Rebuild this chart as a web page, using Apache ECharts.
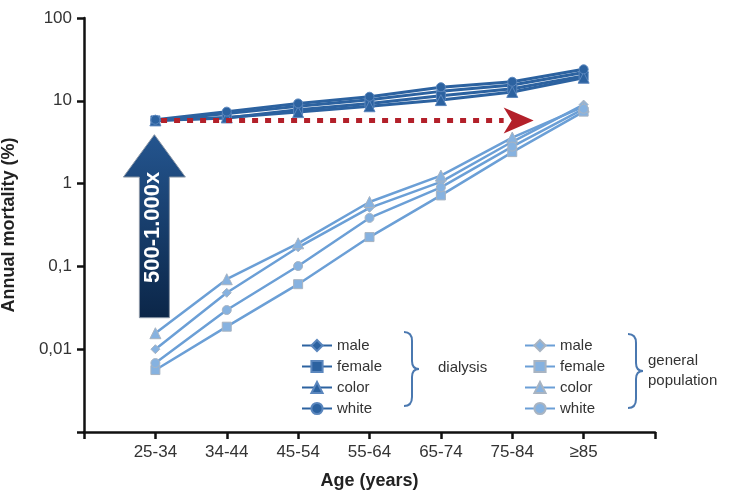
<!DOCTYPE html>
<html>
<head>
<meta charset="utf-8">
<script src="https://cdn.jsdelivr.net/npm/echarts@6/dist/echarts.min.js"></script>
<style>
html,body{margin:0;padding:0;background:#fff;}
#c{width:742px;height:498px;}
</style>
</head>
<body>
<div id="c"></div>
<script>
const ages = ['25-34','34-44','45-54','55-64','65-74','75-84','\u226585'];
const yTickLabels = ['', '0,01', '0,1', '1', '10', '100'];

const dialMale   = [5.8, 7.0, 8.6, 10.3, 13.0, 15.5, 22];
const dialFemale = [5.8, 6.2, 7.8, 9.3, 11.5, 14.0, 20];
const dialColor  = [5.8, 6.3, 7.3, 8.6, 10.2, 12.8, 19];
const dialWhite  = [5.9, 7.4, 9.3, 11.2, 14.6, 17.0, 24];

const genMale   = [0.010, 0.048, 0.17, 0.51, 1.05, 3.2, 9.0];
const genFemale = [0.0056, 0.0187, 0.061, 0.226, 0.72, 2.4, 7.4];
const genColor  = [0.0156, 0.070, 0.19, 0.60, 1.25, 3.6, 8.5];
const genWhite  = [0.0068, 0.0297, 0.101, 0.385, 0.9, 2.8, 8.0];

// annotation anchors (data space)
const arrowFrom = 0.024, arrowHeadBase = 1.2, arrowTip = 3.9;
const refLevel = 5.8, refStart = 1.08, refEnd = 6.3;

const DARK = '#2c62a0', LIGHT = '#6b9fd6';
const toPts = arr => arr.map((v, i) => [i + 1, v]);

function mk(name, data, symbol, dark) {
  return {
    name: name, type: 'line', data: toPts(data),
    symbol: symbol, symbolSize: symbol === 'triangle' ? 11 : 9,
    lineStyle: { color: dark ? DARK : LIGHT, width: dark ? 3 : 2.5 },
    itemStyle: dark ? { color: DARK, borderColor: '#5a86bd', borderWidth: 1 }
                    : { color: '#86b2e0', borderColor: '#a8b4c2', borderWidth: 1 },
    z: dark ? 4 : 3, animation: false
  };
}

const chart = echarts.init(document.getElementById('c'));
const font = 'Liberation Sans, Arial, sans-serif';
chart.setOption({
  animation: false,
  textStyle: { fontFamily: font },
  grid: { left: 84, right: 87, top: 18, bottom: 66, containLabel: false, outerBoundsMode: 'none' },
  xAxis: {
    type: 'value', min: 0, max: 8, interval: 1,
    name: 'Age (years)', nameLocation: 'middle', nameGap: 40,
    nameTextStyle: { fontSize: 18, fontWeight: 'bold', color: '#222', fontFamily: font },
    axisLine: { lineStyle: { color: '#111', width: 2.5 } },
    axisTick: { show: true, length: 7, lineStyle: { color: '#111', width: 2.5 } },
    axisLabel: { formatter: v => ages[v - 1] || '', fontSize: 17, color: '#333', margin: 12, fontFamily: font },
    splitLine: { show: false }
  },
  yAxis: {
    type: 'log', logBase: 10, min: 0.001, max: 100,
    name: 'Annual mortality (%)', nameLocation: 'middle', nameGap: 66,
    nameTextStyle: { fontSize: 18, fontWeight: 'bold', color: '#222', fontFamily: font },
    axisLine: { show: true, lineStyle: { color: '#111', width: 2.5 } },
    axisTick: { show: true, length: 7, lineStyle: { color: '#111', width: 2.5 } },
    minorTick: { show: false },
    axisLabel: { formatter: v => yTickLabels[Math.round(Math.log10(v)) + 3] || '', fontSize: 17, color: '#333', margin: 12, fontFamily: font },
    splitLine: { show: false }
  },
  legend: [
    {
      data: ['dialysis male', 'dialysis female', 'dialysis color', 'dialysis white'],
      orient: 'vertical', left: 296, top: 333, itemGap: 6, itemWidth: 30, itemHeight: 14,
      formatter: n => n.split(' ')[1], selectedMode: false,
      textStyle: { fontSize: 15, color: '#333', fontFamily: font }
    },
    {
      data: ['general male', 'general female', 'general color', 'general white'],
      orient: 'vertical', left: 519, top: 333, itemGap: 6, itemWidth: 30, itemHeight: 14,
      formatter: n => n.split(' ')[1], selectedMode: false,
      textStyle: { fontSize: 15, color: '#333', fontFamily: font }
    }
  ],
  series: [
    mk('general male', genMale, 'diamond', false),
    mk('general female', genFemale, 'rect', false),
    mk('general color', genColor, 'triangle', false),
    mk('general white', genWhite, 'circle', false),
    mk('dialysis male', dialMale, 'diamond', true),
    mk('dialysis female', dialFemale, 'rect', true),
    mk('dialysis color', dialColor, 'triangle', true),
    mk('dialysis white', dialWhite, 'circle', true)
  ]
});

function px(x, y) { return chart.convertToPixel({ gridIndex: 0 }, [x, y]); }

const tip = px(1, arrowTip), base = px(1, arrowHeadBase), bot = px(1, arrowFrom);
const cx = tip[0] - 1, hw = 31, sw = 15;
const r0 = px(refStart, refLevel), r1 = px(refEnd, refLevel);
const ry = r0[1];

const BRACE = '#4a78b0';
function brace(x, y0, y1) {
  const ym = (y0 + y1) / 2, xs = x + 8, xm = x + 15;
  const st = { stroke: BRACE, lineWidth: 2, fill: null };
  const q = (x1, y1, cx1, cy1, x2, y2) => ({ type: 'bezierCurve', z: 8, silent: true,
    shape: { x1: x1, y1: y1, cpx1: cx1, cpy1: cy1, x2: x2, y2: y2 }, style: st });
  const l = (x1, y1, x2, y2) => ({ type: 'line', z: 8, silent: true,
    shape: { x1: x1, y1: y1, x2: x2, y2: y2 }, style: st });
  return [
    q(x, y0, xs, y0, xs, y0 + 9),
    l(xs, y0 + 9, xs, ym - 8),
    q(xs, ym - 8, xs, ym, xm, ym),
    q(xm, ym, xs, ym, xs, ym + 8),
    l(xs, ym + 8, xs, y1 - 9),
    q(xs, y1 - 9, xs, y1, x, y1)
  ];
}

chart.setOption({
  graphic: [
    {
      type: 'polygon', z: 10,
      shape: { points: [[cx, tip[1]], [cx + hw, base[1]], [cx + sw, base[1]], [cx + sw, bot[1]],
                        [cx - sw, bot[1]], [cx - sw, base[1]], [cx - hw, base[1]]] },
      style: {
        fill: new echarts.graphic.LinearGradient(0, 0, 0, 1, [
          { offset: 0, color: '#24558f' }, { offset: 1, color: '#0b2648' }]),
        stroke: '#8a96a6', lineWidth: 1
      }
    },
    {
      type: 'text', z: 11, x: cx - 1, y: (base[1] + bot[1]) / 2 - 20, rotation: Math.PI / 2,
      style: { text: '500-1.000x', fill: '#fff', font: 'bold 22px ' + font, align: 'center', verticalAlign: 'middle' }
    },
    {
      type: 'line', z: 9,
      shape: { x1: r0[0], y1: ry, x2: r1[0] - 30, y2: ry },
      style: { stroke: '#b3202a', lineWidth: 5, lineDash: [6, 7] }
    },
    {
      type: 'polygon', z: 9,
      shape: { points: [[r1[0], ry], [r1[0] - 30, ry - 13], [r1[0] - 22, ry], [r1[0] - 30, ry + 13]] },
      style: { fill: '#b3202a' }
    }
  ].concat(brace(404, 332, 406), brace(628, 334, 408), [
    {
      type: 'text', z: 8, x: 438, y: 368,
      style: { text: 'dialysis', fill: '#333', font: '15px ' + font, verticalAlign: 'middle' }
    },
    {
      type: 'text', z: 8, x: 648, y: 361,
      style: { text: 'general', fill: '#333', font: '15px ' + font, verticalAlign: 'middle' }
    },
    {
      type: 'text', z: 8, x: 648, y: 381,
      style: { text: 'population', fill: '#333', font: '15px ' + font, verticalAlign: 'middle' }
    }
  ])
});
</script>
</body>
</html>
